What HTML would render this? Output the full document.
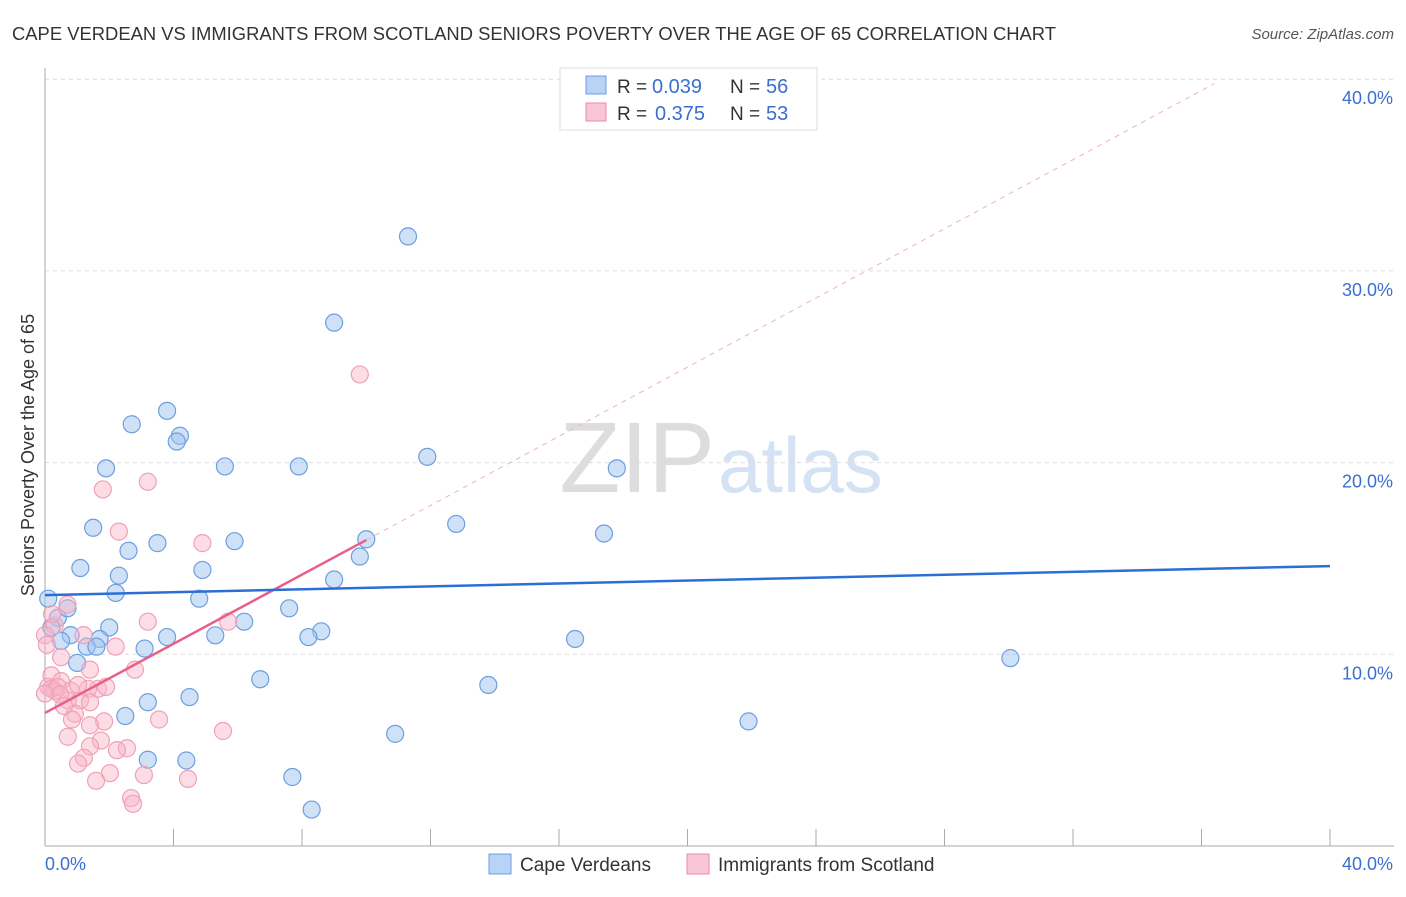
<!DOCTYPE html>
<html><head><meta charset="utf-8"><style>
body{margin:0;background:#fff;font-family:"Liberation Sans",sans-serif}
svg text{font-family:"Liberation Sans",sans-serif}
</style></head><body>
<svg id="c" width="1406" height="892">
<text x="12" y="40" font-size="18" fill="#333" textLength="1044" lengthAdjust="spacingAndGlyphs">CAPE VERDEAN VS IMMIGRANTS FROM SCOTLAND SENIORS POVERTY OVER THE AGE OF 65 CORRELATION CHART</text>
<text x="1394" y="39" font-size="15" fill="#555" font-style="italic" text-anchor="end">Source: ZipAtlas.com</text>
<text x="715" y="492" font-size="100" fill="#ddd" text-anchor="end" font-family="Liberation Serif">ZIP</text>
<text x="718" y="492" font-size="78" fill="#d4e2f3">atlas</text>
<g id="grid"></g><g id="axes"></g><g id="marks"></g>
<text transform="translate(34,455) rotate(-90)" font-size="18" fill="#333" text-anchor="middle">Seniors Poverty Over the Age of 65</text>
<g>
<rect x="560" y="68" width="257" height="62" fill="#fff" stroke="#ddd"/>
<rect x="586" y="76" width="20" height="18" fill="#b8d3f5" stroke="#6d9ee0"/>
<rect x="586" y="103" width="20" height="18" fill="#f9c6d6" stroke="#ee8aaa"/>
<text x="617" y="93" font-size="19" fill="#333">R =</text><text x="652" y="93" font-size="20" fill="#3a6fd0">0.039</text>
<text x="730" y="93" font-size="19" fill="#333">N =</text><text x="766" y="93" font-size="20" fill="#3a6fd0">56</text>
<text x="617" y="120" font-size="19" fill="#333">R =</text><text x="655" y="120" font-size="20" fill="#3a6fd0">0.375</text>
<text x="730" y="120" font-size="19" fill="#333">N =</text><text x="766" y="120" font-size="20" fill="#3a6fd0">53</text>
</g>
<g>
<rect x="489" y="854" width="22" height="20" fill="#b8d3f5" stroke="#6d9ee0"/>
<text x="520" y="871" font-size="19" fill="#333">Cape Verdeans</text>
<rect x="687" y="854" width="22" height="20" fill="#f9c6d6" stroke="#ee8aaa"/>
<text x="718" y="871" font-size="19" fill="#333">Immigrants from Scotland</text>
</g>
</svg>
<script>
const yTicks=[10,20,30,40];
const xTickLabels=["0.0%","40.0%"];
const blueX=[11.3,9,3.8,2.7,4.2,4.1,1.9,5.6,7.9,11.9,17.8,12.8,17.4,1.5,10,3.5,5.9,2.6,9.8,1.1,2.3,4.9,9,2.2,4.8,7.6,6.2,2,8.6,5.3,8.2,3.8,16.5,0.8,1.7,0.5,1.3,3.1,1.6,30.05,1,6.7,13.8,4.5,3.2,2.5,21.9,10.9,3.2,4.4,7.7,8.3,0.1,0.4,0.7,0.2];
const blueY=[31.8,27.3,22.7,22,21.4,21.1,19.7,19.8,19.8,20.3,19.7,16.8,16.3,16.6,16,15.8,15.9,15.4,15.1,14.5,14.1,14.4,13.9,13.2,12.9,12.4,11.7,11.4,11.2,10.99,10.9,10.9,10.8,11,10.8,10.7,10.4,10.3,10.4,9.8,9.55,8.7,8.4,7.77,7.5,6.78,6.5,5.85,4.5,4.46,3.6,1.9,12.9,11.9,12.4,11.4];
const pinkX=[9.8,3.2,1.8,2.3,4.9,3.2,5.7,0.7,0.3,1.2,2.2,0.5,1.4,2.8,0.2,0.5,0.1,0.3,0.2,0.4,0.8,1.65,1.9,1.34,1.09,0.71,1.4,0.93,1.84,3.55,0.84,1.4,5.54,0.71,1.74,1.4,2.55,2.24,1.21,1.03,2.02,3.08,4.45,1.59,2.68,2.74,0,0.06,0.47,0.59,0.22,0,1.03];
const pinkY=[24.6,19,18.6,16.4,15.8,11.7,11.7,12.6,11.5,11,10.4,9.85,9.2,9.2,8.9,8.6,8.3,8.1,8.2,8.3,8.1,8.2,8.3,8.2,7.6,7.6,7.5,6.9,6.5,6.6,6.6,6.3,6,5.7,5.5,5.2,5.1,5,4.6,4.3,3.8,3.7,3.5,3.4,2.5,2.2,11,10.5,7.9,7.3,12.1,7.95,8.4];
const trendBlue=[13.09,0.0378];
const trendPink=[6.94,0.902];
const NS="http://www.w3.org/2000/svg";
const sx=v=>45+v*32.125, sy=v=>846-v*19.17;
function mk(p,tag,at){const e=document.createElementNS(NS,tag);for(const k in at)e.setAttribute(k,at[k]);p.appendChild(e);return e;}
const grid=document.getElementById('grid'),axes=document.getElementById('axes'),marks=document.getElementById('marks');
yTicks.forEach(t=>{
 const l=mk(grid,'line',{x1:45,x2:1394,y1:sy(t),y2:sy(t),stroke:'#ddd','stroke-dasharray':'4,4'});
 
 
 const tx=mk(axes,'text',{x:1393,y:sy(t)+25,'font-size':18,fill:'#3a6fd0','text-anchor':'end'});tx.textContent=t.toFixed(1)+'%';
 
 
});
mk(axes,'line',{x1:45,x2:45,y1:68,y2:846,stroke:'#aaa'});
mk(axes,'line',{x1:45,x2:1394,y1:846,y2:846,stroke:'#aaa'});
for(let i=0;i<=10;i++){mk(axes,'line',{x1:sx(i*4),x2:sx(i*4),y1:829,y2:846,stroke:'#aaa'});}
[[0,45,'start'],[40,1393,'end']].forEach((d,i)=>{const t=mk(axes,'text',{x:d[1],y:870,'font-size':18,fill:'#3a6fd0','text-anchor':d[2]});t.textContent=xTickLabels[i];
 
 });
blueX.forEach((x,i)=>{const c=mk(marks,'circle',{cx:sx(x),cy:sy(blueY[i]),r:8.5,fill:'rgba(160,196,240,0.5)',stroke:'#6d9ee0','stroke-width':1.2});
 
 });
pinkX.forEach((x,i)=>{const c=mk(marks,'circle',{cx:sx(x),cy:sy(pinkY[i]),r:8.5,fill:'rgba(248,180,200,0.45)',stroke:'#f0a0b8','stroke-width':1.2});
 
 });
const pd=mk(marks,'line',{x1:sx(10),y1:sy(trendPink[0]+trendPink[1]*10),x2:sx(36.4),y2:sy(trendPink[0]+trendPink[1]*36.4),stroke:'#eeb0c4','stroke-dasharray':'5,5'});


const pl=mk(marks,'line',{x1:sx(0),y1:sy(trendPink[0]),x2:sx(10),y2:sy(trendPink[0]+trendPink[1]*10),stroke:'#e8608a','stroke-width':2.5});


const bl=mk(marks,'line',{x1:sx(0),y1:sy(trendBlue[0]),x2:sx(40),y2:sy(trendBlue[0]+trendBlue[1]*40),stroke:'#2a6fd6','stroke-width':2.5});


</script>
</body></html>
